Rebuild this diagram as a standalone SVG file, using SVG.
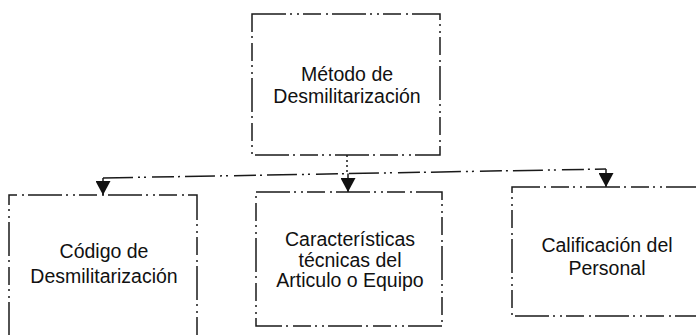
<svg xmlns="http://www.w3.org/2000/svg" width="696" height="335" viewBox="0 0 696 335">
<style>
.edge{fill:none;stroke:#1a1a1a;stroke-width:1.5;stroke-dasharray:34 4 2 5 2 4 18 5 2 4}
.conn{fill:none;stroke:#1a1a1a;stroke-width:1.5;stroke-dasharray:30 5 2 4 2 6 22 4 2 5}
.stub{fill:none;stroke:#1a1a1a;stroke-width:1.5}
.lbl{font-family:"Liberation Sans",Arial,sans-serif;font-size:19.5px;fill:#111;text-anchor:middle}
</style>
<defs>
<marker id="arr" markerUnits="userSpaceOnUse" markerWidth="14" markerHeight="15" viewBox="0 0 13 14" refX="13" refY="7" orient="auto">
<path d="M0,0 L13,7 L0,14 Z" fill="#111"/>
</marker>
</defs>
<rect width="696" height="335" fill="#fff"/>
<g id="connectors">
<path class="conn" d="M347,155 V173.6" style="stroke-dasharray:2 3"/>
<path class="conn" d="M103,178 L606,169"/>
<path class="stub" d="M103,178 V195" marker-end="url(#arr)"/>
<path class="stub" d="M348,173.6 V192" marker-end="url(#arr)"/>
<path class="stub" d="M606,169 V187" marker-end="url(#arr)"/>
</g>
<g id="metodo">
<rect class="edge" x="252" y="14" width="188" height="141"/>
<text class="lbl" x="347" y="81">Método de</text>
<text class="lbl" x="347" y="103">Desmilitarización</text>
</g>
<g id="codigo">
<path class="edge" d="M9,336 V195 H197 V336"/>
<text class="lbl" x="104" y="258">Código de</text>
<text class="lbl" x="104" y="283">Desmilitarización</text>
</g>
<g id="caracteristicas">
<rect class="edge" x="256" y="192" width="186" height="134"/>
<text class="lbl" x="350" y="246">Características</text>
<text class="lbl" x="350" y="267">técnicas del</text>
<text class="lbl" x="350" y="287">Articulo o Equipo</text>
</g>
<g id="calificacion">
<path class="edge" d="M700,187 H512 V316 H700"/>
<text class="lbl" x="607" y="252">Calificación del</text>
<text class="lbl" x="607" y="275">Personal</text>
</g>
</svg>
